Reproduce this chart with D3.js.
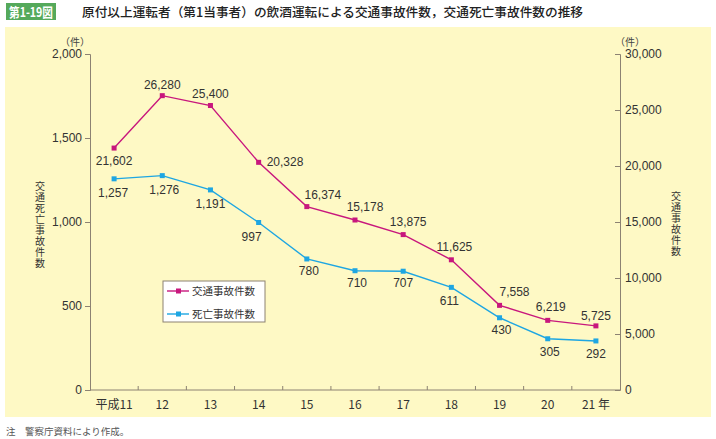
<!DOCTYPE html>
<html><head><meta charset="utf-8">
<script src="https://cdn.jsdelivr.net/npm/d3@7"></script>
<style>
body{margin:0;background:#fff;}
svg{display:block;}
</style></head>
<body>
<svg id="c" width="716" height="439"></svg>
<script>
const categories = ["平成11","12","13","14","15","16","17","18","19","20","21 年"];
const accidents = [21602,26280,25400,20328,16374,15178,13875,11625,7558,6219,5725];
const deaths = [1257,1276,1191,997,780,710,707,611,430,305,292];
const leftTicks = [0,500,1000,1500,2000];
const rightTicks = [0,5000,10000,15000,20000,25000,30000];
const seriesNames = ["交通事故件数","死亡事故件数"];
// label placement for accident labels: [dx, dy, anchor]
const accLabelPos = [[0,13,"middle"],[0,-11,"middle"],[0,-12,"middle"],[8,0,"start"],[16,-12,"middle"],[10,-13,"middle"],[5,-13,"middle"],[3,-13,"middle"],[15,-13,"middle"],[3,-13,"middle"],[0,-10,"middle"]];
const deathLabelPos = [[-1,14],[2,14],[0,14],[-7,14],[2,12],[2,12],[0,12],[-2,14],[2,12],[2,13],[0,13]];

const pink = "#c8177d", blue = "#1ea6e2", axisCol = "#8c8272";
const svg = d3.select("#c");
const font = "'Liberation Sans', Arial, sans-serif";
const jfont = "'Noto Sans CJK JP', sans-serif";

// panel
svg.append("rect").attr("x",5).attr("y",27).attr("width",706).attr("height",390).attr("fill","#fef9c5");
// title
svg.append("rect").attr("x",6).attr("y",3).attr("width",50).attr("height",17).attr("fill","#55a95b");
svg.append("text").attr("x",9).attr("y",16.5).attr("fill","#fff")
  .attr("font-family",jfont).attr("font-weight","bold").attr("font-size",13)
  .attr("textLength",44).attr("lengthAdjust","spacingAndGlyphs").text("第1-19図");
svg.append("text").attr("x",82).attr("y",16.5).attr("fill","#222")
  .attr("font-family",jfont).attr("font-weight","500").attr("font-size",12.5)
  .attr("textLength",501).attr("lengthAdjust","spacingAndGlyphs")
  .text("原付以上運転者（第1当事者）の飲酒運転による交通事故件数，交通死亡事故件数の推移");
// footnote
svg.append("text").attr("x",6).attr("y",435).attr("fill","#555")
  .attr("font-family",jfont).attr("font-size",9.5).text("注　警察庁資料により作成。");

const x0 = 90, x1 = 620, y0 = 390, y1 = 54;
const x = d3.scaleBand().domain(categories).range([x0,x1]);
const yL = d3.scaleLinear().domain([0,2000]).range([y0,y1]);
const yR = d3.scaleLinear().domain([0,30000]).range([y0,y1]);

// axes
const gL = svg.append("g").attr("transform",`translate(${x0},0)`)
  .call(d3.axisLeft(yL).tickValues(leftTicks).tickSize(5).tickFormat(d3.format(",")));
const gR = svg.append("g").attr("transform",`translate(${x1},0)`)
  .call(d3.axisLeft(yR).tickValues(rightTicks).tickSize(5).tickFormat(d3.format(",")));
gR.selectAll(".tick text").attr("x",5).attr("text-anchor","start");
const gX = svg.append("g").attr("transform",`translate(0,${y0})`)
  .call(d3.axisBottom(x).tickSize(0).tickPadding(10));
// tick marks at band boundaries
svg.append("g").selectAll("line").data(categories.slice(1)).join("line")
  .attr("x1",d=>x(d)).attr("x2",d=>x(d)).attr("y1",y0).attr("y2",y0-4)
  .attr("stroke",axisCol);
[gL,gR,gX].forEach(g=>{
  g.selectAll("path,line").attr("stroke",axisCol);
  g.selectAll("text").attr("fill","#333").attr("font-family",font).attr("font-size",12);
});
gX.select(".domain").attr("d",`M${x0},0H${x1}`);
gX.selectAll(".tick text").attr("font-family",jfont).attr("font-size",12);

// unit labels
svg.append("text").attr("x",75).attr("y",46).attr("text-anchor","middle").attr("fill","#444")
  .attr("font-family",jfont).attr("font-size",10).text("（件）");
svg.append("text").attr("x",630).attr("y",46).attr("text-anchor","middle").attr("fill","#444")
  .attr("font-family",jfont).attr("font-size",10).text("（件）");

// vertical axis titles
function vtitle(str,cx,top){
  svg.append("text").attr("x",cx).attr("y",top)
    .style("writing-mode","vertical-rl").style("letter-spacing","1px")
    .attr("font-family",jfont).attr("font-size",10).attr("fill","#333").text(str);
}
vtitle("交通死亡事故件数",40,181);
vtitle("交通事故件数",676,191);

const cx = d => x(d)+x.bandwidth()/2;
// lines
const lineR = d3.line().x((d,i)=>cx(categories[i])).y(d=>yR(d));
const lineL = d3.line().x((d,i)=>cx(categories[i])).y(d=>yL(d));
svg.append("path").attr("d",lineR(accidents)).attr("fill","none").attr("stroke",pink).attr("stroke-width",1.4);
svg.append("path").attr("d",lineL(deaths)).attr("fill","none").attr("stroke",blue).attr("stroke-width",1.4);
svg.append("g").selectAll("rect").data(accidents).join("rect")
  .attr("x",(d,i)=>cx(categories[i])-2.5).attr("y",d=>yR(d)-2.5).attr("width",5).attr("height",5).attr("fill",pink);
svg.append("g").selectAll("rect").data(deaths).join("rect")
  .attr("x",(d,i)=>cx(categories[i])-2.5).attr("y",d=>yL(d)-2.5).attr("width",5).attr("height",5).attr("fill",blue);

// value labels
const fmt = d3.format(",");
svg.append("g").selectAll("text").data(accidents).join("text")
  .attr("x",(d,i)=>cx(categories[i])+accLabelPos[i][0])
  .attr("y",(d,i)=>yR(d)+accLabelPos[i][1]+4)
  .attr("text-anchor",(d,i)=>accLabelPos[i][2])
  .attr("font-family",font).attr("font-size",12).attr("fill","#333").text(fmt);
svg.append("g").selectAll("text").data(deaths).join("text")
  .attr("x",(d,i)=>cx(categories[i])+deathLabelPos[i][0])
  .attr("y",(d,i)=>yL(d)+deathLabelPos[i][1]+4)
  .attr("text-anchor","middle")
  .attr("font-family",font).attr("font-size",12).attr("fill","#333").text(fmt);

// legend
const lg = svg.append("g");
lg.append("rect").attr("x",163).attr("y",281).attr("width",102).attr("height",41).attr("fill","#fff").attr("stroke","#8c8272");
[pink,blue].forEach((c,i)=>{
  const yy = 291 + i*23;
  lg.append("line").attr("x1",167).attr("x2",189).attr("y1",yy).attr("y2",yy).attr("stroke",c).attr("stroke-width",1.4);
  lg.append("rect").attr("x",176).attr("y",yy-2.5).attr("width",5).attr("height",5).attr("fill",c);
  lg.append("text").attr("x",192).attr("y",yy+4).attr("font-family",jfont).attr("font-size",10.5).attr("fill","#333").text(seriesNames[i]);
});
</script>
</body></html>
